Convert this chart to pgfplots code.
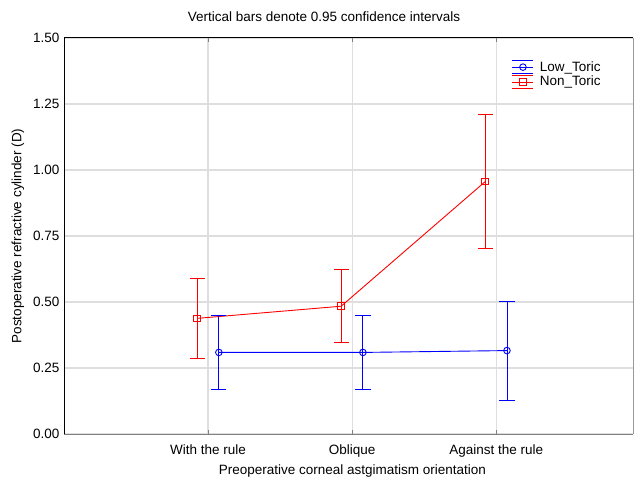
\documentclass[border=0pt]{standalone}
\usepackage{pgfplots}
\pgfplotsset{compat=1.18}
\usepackage{fontspec}
\setmainfont{Liberation Sans}
\definecolor{gridgray}{RGB}{222,222,222}
\definecolor{lowblue}{RGB}{0,0,255}
\definecolor{nonred}{RGB}{255,0,0}
\newcommand{\chartfont}{\fontsize{13.5}{16}\selectfont}
\pgfplotsset{
  cilegend/.style={
    legend image code/.code={
      \draw[##1, mark=none] plot coordinates {(0pt,6.7pt) (21pt,6.7pt)};
      \draw[##1, mark=none] plot coordinates {(0pt,-6.7pt) (21pt,-6.7pt)};
      \draw[mark repeat=2,mark phase=2,##1] plot coordinates {(0pt,0pt) (10.5pt,0pt) (21pt,0pt)};
    }
  },
  cibar/.style={color=#1, line width=0.9pt, mark=-, mark size=7.6pt, mark options={solid}}
}
\begin{document}
\chartfont
\begin{tikzpicture}
\begin{axis}[
    name=ax,
    scale only axis,
    width=569pt, height=396pt,
    xmin=0, xmax=3.95,
    ymin=0, ymax=1.5,
    xtick={1,2,3},
    xticklabels={With the rule, Oblique, Against the rule},
    ytick={0,0.25,0.5,0.75,1,1.25,1.5},
    yticklabel style={/pgf/number format/.cd, fixed, fixed zerofill, precision=2},
    /pgf/number format/assume math mode=true,
    xticklabel style={yshift=-6pt},
    xtick pos=both, tick align=inside,
    major tick length=4pt,
    ytick style={draw=none},
    xtick style={line width=0.8pt},
    grid=major,
    major grid style={gridgray, line width=1.2pt},
    axis line style={draw=none},
    tick label style={font=\chartfont},
    label style={font=\chartfont},
    xlabel={Preoperative corneal astgimatism orientation},
    ylabel={Postoperative refractive cylinder (D)},
    xlabel style={at={(axis description cs:0.507,-0.093)}, anchor=center},
    ylabel style={at={(axis description cs:-0.081,0.5)}, anchor=center},
    legend style={draw=none, fill=none, at={(rel axis cs:0.787,0.945)}, anchor=north west,
        font=\chartfont, inner sep=0pt, row sep=0.6pt, column sep=5pt,
        nodes={inner sep=1pt}},
    legend cell align=left,
    clip=false,
]
% means
\addplot[color=lowblue, line width=0.9pt, mark=o, mark size=3.3pt,
    mark options={solid, fill=none}, cilegend]
  coordinates {(1.075,0.309) (2.075,0.309) (3.075,0.316)};
\addlegendentry{Low\_Toric}

\addplot[color=nonred, line width=0.9pt, mark=square, mark size=3.3pt,
    mark options={solid, fill=none}, cilegend]
  coordinates {(0.924,0.438) (1.924,0.484) (2.924,0.956)};
\addlegendentry{Non\_Toric}

% 0.95 confidence intervals (lower, upper), one bar each
\addplot[cibar=lowblue] coordinates {(1.075,0.170) (1.075,0.448)};
\addplot[cibar=lowblue] coordinates {(2.075,0.170) (2.075,0.448)};
\addplot[cibar=lowblue] coordinates {(3.075,0.126) (3.075,0.503)};
\addplot[cibar=nonred] coordinates {(0.924,0.287) (0.924,0.588)};
\addplot[cibar=nonred] coordinates {(1.924,0.346) (1.924,0.624)};
\addplot[cibar=nonred] coordinates {(2.924,0.702) (2.924,1.210)};
\end{axis}
\draw[gray, line width=1pt] (ax.south west) -- (ax.south east);
\draw[gray!80, line width=1pt] (ax.south east) -- (ax.north east);
\draw[black, line width=1pt] (ax.south west) -- (ax.north west) -- (ax.north east);
\node[anchor=center] at (260pt,417pt) {Vertical bars denote 0.95 confidence intervals};
\pgfresetboundingbox
\path[use as bounding box] (-64pt,-45pt) rectangle (570pt,434pt);
\end{tikzpicture}
\end{document}
